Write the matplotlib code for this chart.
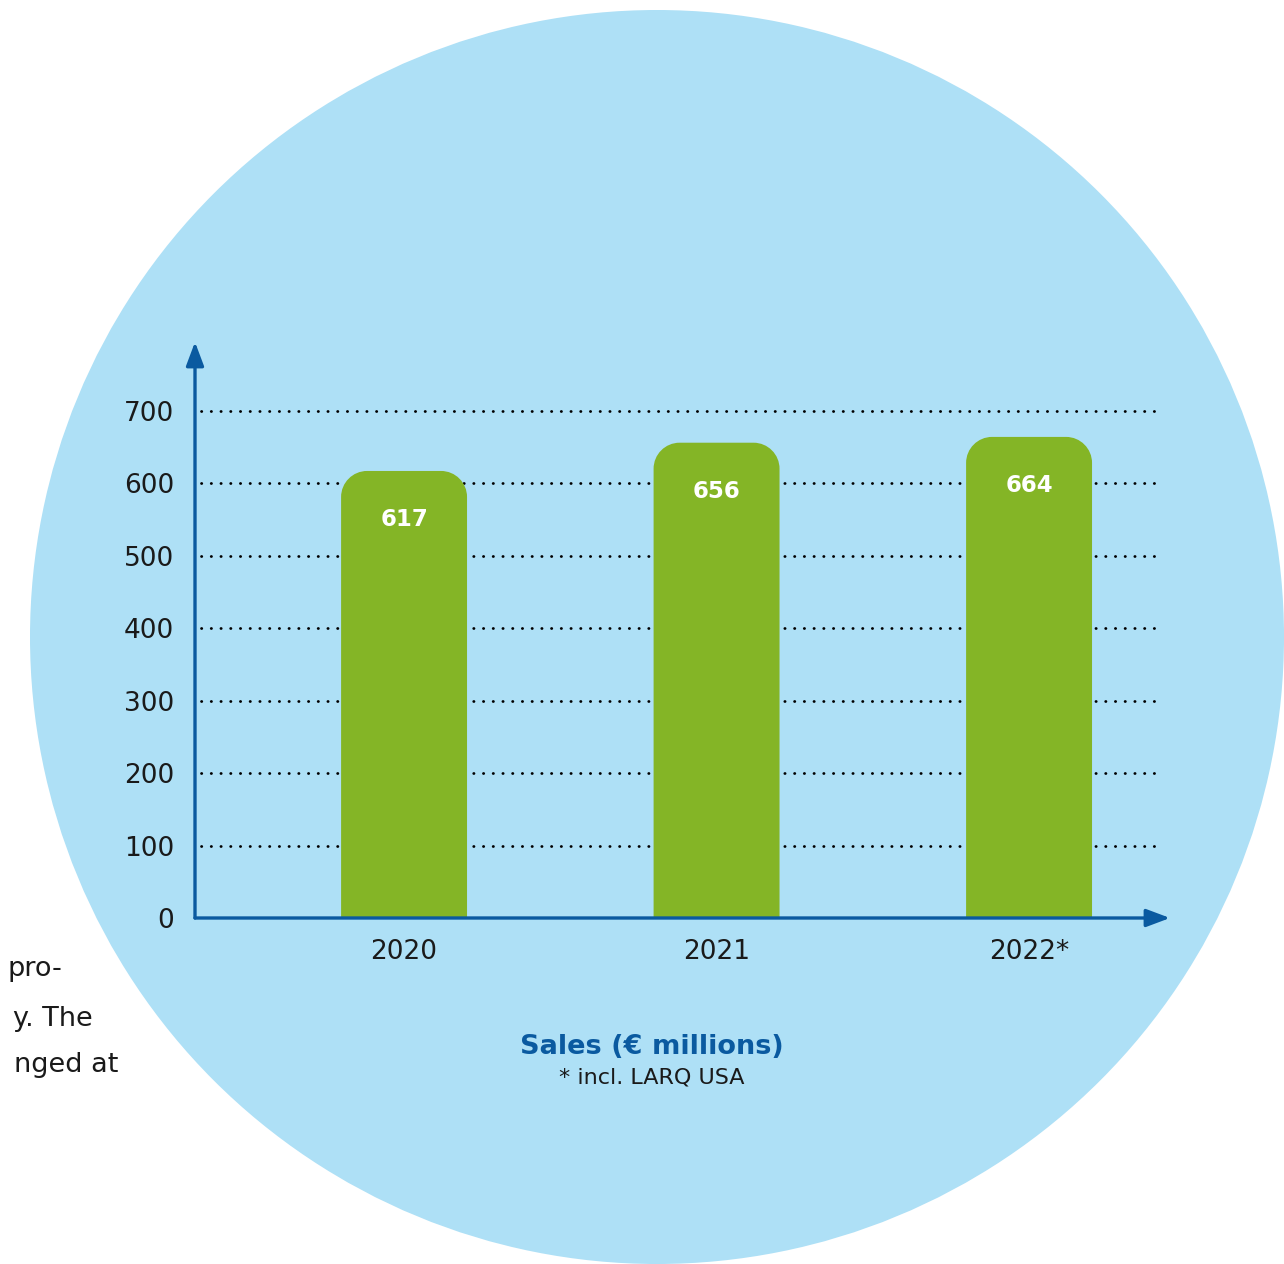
import matplotlib
matplotlib.use("Agg")
import matplotlib.pyplot as plt
from matplotlib.patches import Circle, PathPatch
from matplotlib.path import Path

plt.rcParams['font.family'] = ['DejaVu Sans']

# data
years = ["2020", "2021", "2022*"]
sales = [617, 656, 664]
yticks = [0, 100, 200, 300, 400, 500, 600, 700]

BLUE_BG = "#aee0f6"
GREEN = "#84b526"
AXIS_BLUE = "#0a5aa0"
TEXT = "#1a1a1a"

W, H = 1284, 1264
fig = plt.figure(figsize=(W / 100, H / 100), dpi=100)

# background circle, in pixel-like coords
bg = fig.add_axes([0, 0, 1, 1])
bg.set_xlim(0, W)
bg.set_ylim(H, 0)
bg.axis("off")
bg.add_patch(Circle((657, 637), 627, color=BLUE_BG, lw=0))

# cut off text from the page on the left
for txt, xr, yb in [("pro-", 62, 976), ("y. The", 93, 1026), ("nged at", 118, 1072)]:
    bg.text(xr, yb, txt, ha="right", va="baseline", fontsize=19.5, color=TEXT)


def rounded_bar(x, h, w, rx, ry):
    # rectangle with rounded top corners, square bottom
    k = 0.5523
    x0, x1 = x - w / 2, x + w / 2
    verts = [(x0, 0), (x0, h - ry),
             (x0, h - ry + k * ry), (x0 + rx - k * rx, h), (x0 + rx, h),
             (x1 - rx, h),
             (x1 - rx + k * rx, h), (x1, h - ry + k * ry), (x1, h - ry),
             (x1, 0), (x0, 0)]
    codes = [Path.MOVETO, Path.LINETO,
             Path.CURVE4, Path.CURVE4, Path.CURVE4,
             Path.LINETO,
             Path.CURVE4, Path.CURVE4, Path.CURVE4,
             Path.LINETO, Path.CLOSEPOLY]
    return Path(verts, codes)


# chart axes: axis line at px 195, baseline at px 918
ax = fig.add_axes([195 / W, (H - 918) / H, (1170 - 195) / W, (918 - 342) / H])
ax.patch.set_alpha(0)
ax.set_xlim(-0.669, 2.451)
ax.set_ylim(0, 795)
for s in ax.spines.values():
    s.set_visible(False)

# dotted gridlines
grid = ax.hlines(yticks[1:], -0.65, 2.403, colors="black", linestyles=(0, (0.1, 3.4)),
                 lw=2.0, zorder=1)
grid.set_capstyle("round")

# bars with rounded tops
bw = 0.403
rx = 26 / 312.5
ry = 26 / 0.7243
for i, v in enumerate(sales):
    ax.add_patch(PathPatch(rounded_bar(i, v, bw, rx, ry), fc=GREEN, ec="none", zorder=2))
    ax.text(i, v - 67, str(v), ha="center", va="center", color="white",
            fontsize=16.5, fontweight="bold", zorder=3)

# axes with arrowheads
arrow = dict(arrowstyle="-|>,head_length=0.8,head_width=0.3", color=AXIS_BLUE,
             lw=2.4, shrinkA=0, shrinkB=0, mutation_scale=18)
ax.annotate("", xy=(0, 1), xytext=(0, 0), xycoords="axes fraction", arrowprops=arrow, zorder=4)
ax.annotate("", xy=(1, 0), xytext=(0, 0), xycoords="axes fraction", arrowprops=arrow, zorder=4)

ax.set_yticks(yticks)
ax.set_yticklabels([str(t) for t in yticks], fontsize=19, color=TEXT)
ax.set_xticks(range(len(years)))
ax.set_xticklabels(years, fontsize=19, color=TEXT)
ax.tick_params(axis="both", length=0)
ax.tick_params(axis="y", pad=15)
ax.tick_params(axis="x", pad=15)

bg.text(652, 1047, "Sales (€ millions)", ha="center", va="center", fontsize=19.5,
        fontweight="bold", color=AXIS_BLUE)
bg.text(652, 1077, "* incl. LARQ USA", ha="center", va="center", fontsize=16, color=TEXT)

fig.savefig("out.png", dpi=100)
